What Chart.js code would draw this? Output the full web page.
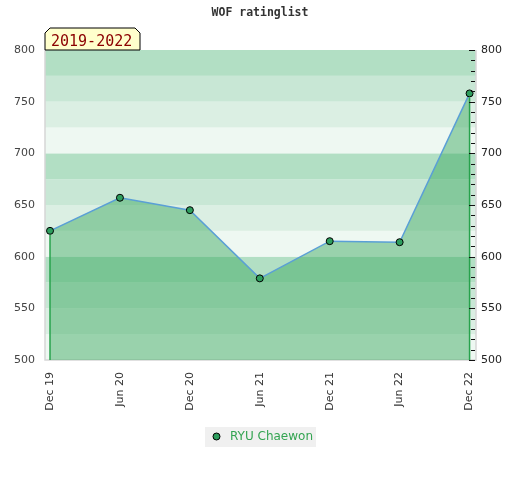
<!DOCTYPE html>
<html>
<head>
<meta charset="utf-8">
<script src="https://cdn.jsdelivr.net/npm/chart.js@4/dist/chart.umd.min.js"></script>
<style>
html,body{margin:0;padding:0;background:#fff;}
#wrap{width:520px;height:480px;position:relative;}
</style>
</head>
<body>
<div id="wrap"><canvas id="c" width="520" height="480"></canvas></div>
<script>
const titleText = 'WOF ratinglist';
const periodLabel = '2019-2022';
const seriesName = 'RYU Chaewon';
const categories = ['Dec 19','Jun 20','Dec 20','Jun 21','Dec 21','Jun 22','Dec 22'];
const ratings = [625, 657, 645, 579, 615, 614, 758];
const yTickValues = [500, 550, 600, 650, 700, 750, 800];
const minorTickValues = [500,510,520,530,540,550,560,570,580,590,600,610,620,630,640,650,660,670,680,690,700,710,720,730,740,750,760,770,780,790,800];
const bandEdges = [500,525,550,575,600,625,650,675,700,725,750,775,800];
const bandColors = ['#eef8f2','#dbefe3','#c8e7d5','#b2dfc4'];

const points = ratings.map((v, i) => ({x: i, y: v}));

const deco = {
  id: 'deco',
  beforeDatasetsDraw(chart) {
    const {ctx, chartArea: a, scales: {y}} = chart;
    ctx.save();
    for (let i = 0; i < bandEdges.length - 1; i++) {
      const y0 = y.getPixelForValue(bandEdges[i]);
      const y1 = y.getPixelForValue(bandEdges[i + 1]);
      ctx.fillStyle = bandColors[i % 4];
      ctx.fillRect(a.left, y1, a.right - a.left, y0 - y1);
    }
    ctx.strokeStyle = '#d6d6d6';
    ctx.lineWidth = 1.5;
    ctx.beginPath();
    ctx.moveTo(a.left, a.top);
    ctx.lineTo(a.left, a.bottom);
    ctx.lineTo(a.right, a.bottom);
    ctx.lineTo(a.right, a.top);
    ctx.stroke();
    ctx.restore();
  },
  afterDatasetsDraw(chart) {
    const {ctx, chartArea: a, scales: {x, y}} = chart;
    ctx.save();
    ctx.strokeStyle = '#27a24c';
    ctx.lineWidth = 1.5;
    [0, ratings.length - 1].forEach(i => {
      const px = x.getPixelForValue(i);
      const py = y.getPixelForValue(ratings[i]);
      ctx.beginPath();
      ctx.moveTo(px, py + 4);
      ctx.lineTo(px, a.bottom);
      ctx.stroke();
    });
    ctx.strokeStyle = '#111';
    ctx.lineWidth = 1;
    minorTickValues.forEach(v => {
      const py = Math.round(y.getPixelForValue(v)) + 0.5;
      const len = (v % 50 === 0) ? 6 : 4;
      ctx.beginPath();
      ctx.moveTo(a.right - 1 - len, py);
      ctx.lineTo(a.right - 1, py);
      ctx.stroke();
    });
    ctx.restore();
  },
  afterDraw(chart) {
    const {ctx, chartArea: a} = chart;
    ctx.save();
    ctx.fillStyle = '#333';
    ctx.font = 'bold 11.5px "DejaVu Sans Mono"';
    ctx.textAlign = 'center';
    ctx.textBaseline = 'middle';
    ctx.fillText(titleText, 260, 13);
    const bx = a.left, by = 28, bw = 95, bh = 22, c = 5;
    ctx.beginPath();
    ctx.moveTo(bx, by + bh);
    ctx.lineTo(bx, by + c);
    ctx.lineTo(bx + c, by);
    ctx.lineTo(bx + bw - c, by);
    ctx.lineTo(bx + bw, by + c);
    ctx.lineTo(bx + bw, by + bh);
    ctx.closePath();
    ctx.fillStyle = '#ffffcc';
    ctx.fill();
    ctx.strokeStyle = '#000';
    ctx.lineWidth = 1;
    ctx.stroke();
    ctx.fillStyle = '#8b0000';
    ctx.font = '15px "DejaVu Sans Mono"';
    ctx.textAlign = 'left';
    ctx.textBaseline = 'alphabetic';
    ctx.fillText(periodLabel, bx + 6, by + 18);
    ctx.fillStyle = '#f0f0f0';
    ctx.fillRect(205, 427, 111, 20);
    ctx.beginPath();
    ctx.arc(216.5, 436.5, 3.5, 0, Math.PI * 2);
    ctx.fillStyle = '#2e9e5e';
    ctx.fill();
    ctx.strokeStyle = '#000';
    ctx.lineWidth = 1;
    ctx.stroke();
    ctx.fillStyle = '#33a451';
    ctx.font = '12px "DejaVu Sans"';
    ctx.textBaseline = 'middle';
    ctx.fillText(seriesName, 230, 437);
    ctx.restore();
  }
};

new Chart(document.getElementById('c'), {
  type: 'line',
  data: {
    datasets: [{
      label: seriesName,
      data: points,
      borderColor: '#5a9fd6',
      borderWidth: 1.5,
      backgroundColor: 'rgba(57,168,94,0.47)',
      fill: 'start',
      tension: 0,
      pointRadius: 3.5,
      pointBackgroundColor: '#2e9e5e',
      pointBorderColor: '#000',
      pointBorderWidth: 1
    }]
  },
  options: {
    responsive: false,
    animation: false,
    devicePixelRatio: 1,
    layout: {padding: {top: 50, bottom: 60, left: 0, right: 0}},
    plugins: {legend: {display: false}, title: {display: false}, tooltip: {enabled: false}},
    scales: {
      x: {
        type: 'linear',
        min: -0.0716,
        max: 6.092,
        grid: {display: false, drawTicks: false, tickLength: 0},
        border: {display: false},
        afterBuildTicks: s => { s.ticks = categories.map((_, i) => ({value: i})); },
        afterFit: s => { s.height = 60; },
        ticks: {
          autoSkip: false,
          minRotation: 90,
          maxRotation: 90,
          padding: 12,
          color: '#333',
          font: {family: 'DejaVu Sans', size: 11},
          callback: v => categories[v]
        }
      },
      y: {
        position: 'left',
        min: 500,
        max: 800,
        grid: {display: false, drawTicks: false, tickLength: 0},
        border: {display: false},
        afterBuildTicks: s => { s.ticks = yTickValues.map(v => ({value: v})); },
        afterFit: s => { s.width = 45; },
        ticks: {padding: 10, color: '#444', font: {family: 'DejaVu Sans', size: 11}}
      },
      y2: {
        position: 'right',
        min: 500,
        max: 800,
        grid: {display: false, drawTicks: false, tickLength: 0},
        border: {display: false},
        afterBuildTicks: s => { s.ticks = yTickValues.map(v => ({value: v})); },
        afterFit: s => { s.width = 44; },
        ticks: {padding: 5, color: '#222', font: {family: 'DejaVu Sans', size: 11}}
      }
    }
  },
  plugins: [deco]
});
</script>
</body>
</html>
